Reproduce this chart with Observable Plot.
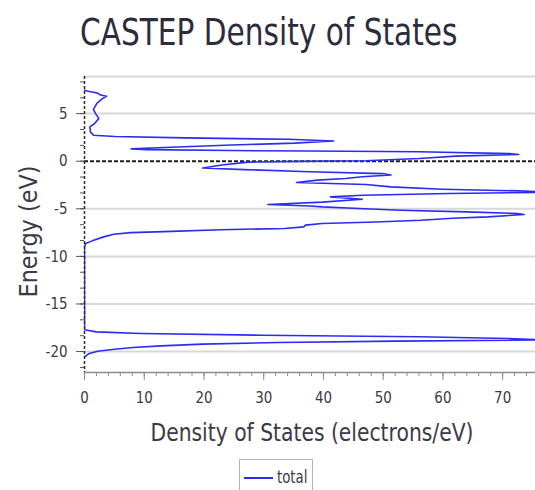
<!DOCTYPE html>
<html>
<head>
<meta charset="utf-8">
<script src="https://cdn.jsdelivr.net/npm/d3@7"></script>
<script src="https://cdn.jsdelivr.net/npm/@observablehq/plot@0.6"></script>
<style>
  html, body { margin: 0; padding: 0; background: #fff; }
  body { width: 535px; height: 490px; position: relative; overflow: hidden; font-family: "DejaVu Sans", sans-serif; }
  #title { position: absolute; left: 80px; top: 14px; font-size: 37px; line-height: 37px; color: #2c2c3c; transform: scaleX(0.80); transform-origin: 0 0; white-space: nowrap; }
  #chart { position: absolute; left: 0; top: 60px; }
  #legend { position: absolute; left: 239px; top: 459px; width: 74px; height: 40px; border: 1px solid #b4b4b4; box-sizing: border-box; background: #fff; }
  #legend .sw { position: absolute; left: 4px; top: 17px; width: 29px; border-top: 2px solid #2b2bf5; }
  #legend .lab { position: absolute; left: 37px; top: 7px; font-size: 18px; line-height: 20px; color: #3a3a48; transform: scaleX(0.74); transform-origin: 0 0; white-space: nowrap; }
</style>
</head>
<body>
<div id="title">CASTEP Density of States</div>
<div id="chart"></div>
<div id="legend"><span class="sw"></span><span class="lab" id="legendLabel"></span></div>
<script>
// ---- data ----
const seriesName = "total";
const xLabel = "Density of States (electrons/eV)";
const yLabel = "Energy (eV)";
const xTicks = [0, 10, 20, 30, 40, 50, 60, 70];
const yTicks = [5, 0, -5, -10, -15, -20];
const xDomain = [0, 75.5];
const yDomain = [-22.2, 8.9];

// energy (eV) and total DOS (electrons/eV), in drawing order
const energy = [
  7.45, 7.3, 7.18, 6.96, 6.83, 6.58, 6.1, 5.45, 5.0, 4.5, 3.96, 3.6, 3.08, 2.73,
  2.6, 2.45, 2.3, 2.12, 1.9, 1.7, 1.5, 1.3, 1.22, 1.12, 1.07, 1.0, 0.8, 0.7,
  0.53, 0.28, 0.05, -0.02, -0.1, -0.4, -0.72, -0.88, -1.1, -1.3, -1.45, -1.64,
  -1.82, -1.99, -2.24, -2.45, -2.7, -2.94, -3.12, -3.25, -3.4, -3.57, -3.75,
  -4.0, -4.3, -4.55, -4.7, -4.8, -4.97, -5.15, -5.32, -5.5, -5.6, -5.85, -6.0,
  -6.2, -6.38, -6.55, -6.72, -6.9, -7.07, -7.2, -7.4, -7.5, -7.67, -7.95,
  -8.37, -8.65, -9.0, -17.7, -17.93, -18.1, -18.28, -18.45, -18.63, -18.78,
  -18.9, -19.05, -19.22, -19.4, -19.57, -19.75, -19.96, -20.2, -20.55
];
const dos = [
  0, 1.0, 2.1, 2.7, 3.7, 3.0, 2.1, 1.5, 1.85, 2.4, 1.7, 0.9, 1.0, 1.5,
  5.1, 16.8, 34.1, 41.7, 35.2, 24.6, 15.6, 7.8, 10.5, 24.6, 37.7, 56, 71.1, 72.7,
  62.1, 56, 47.1, 35.8, 27.4, 23, 19.8, 26.8, 37.7, 49.9, 51.3, 46.5,
  43.7, 39, 35.5, 47.1, 51.3, 59.9, 72.7, 79, 61, 46.5, 41.2,
  46.5, 39.8, 30.7, 37.7, 39.8, 45.9, 52.9, 64, 72.5, 73.6, 67.5, 61.6,
  56.3, 48.7, 39.8, 37, 36.7, 33.5, 22.8, 13.3, 7.7, 4.9, 3.2,
  1.3, 0.2, 0, 0, 2.0, 9.5, 29.6, 55.9, 71, 77,
  52, 32.4, 19.8, 12.8, 8.1, 5, 2.2, 0.8, 0
];

const rows = energy.map((e, i) => ({energy: e, dos: dos[i]}));
const xMinor = d3.range(0, 76, 2);
const yMinor = d3.range(-13, 6).map(k => k * 5 / 3);

const blue = "#2b2bf5";
const axisGray = "#8c8c8c";

const chart = Plot.plot({
  width: 535,
  height: 395,
  marginTop: 16,
  marginBottom: 83,
  marginLeft: 84,
  marginRight: 0,
  x: {domain: xDomain},
  y: {domain: yDomain},
  style: {fontFamily: "DejaVu Sans, sans-serif", fontSize: "16px", color: "#3a3a48", background: "#fff", overflow: "visible"},
  marks: [
    Plot.gridY(yTicks.filter(d => d !== 0), {stroke: "#d8d8d8", strokeWidth: 2, strokeOpacity: 1}),
    Plot.ruleY([yDomain[1]], {stroke: "#d8d8d8", strokeWidth: 2}),
    Plot.ruleY([0], {stroke: "#1e1e1e", strokeWidth: 2, strokeDasharray: "4,2"}),
    Plot.line(rows, {x: "dos", y: "energy", stroke: blue, strokeWidth: 1.6, clip: true}),
    Plot.ruleX([0], {stroke: "#2a2a2a", strokeWidth: 1.5, strokeDasharray: "3,2"}),
    Plot.ruleY([yDomain[0]], {stroke: axisGray, strokeWidth: 1.5}),
    Plot.axisX(xTicks, {tickSize: 8, tickPadding: 11, stroke: axisGray, label: null, tickFormat: d => String(d)}),
    Plot.axisX(xMinor, {tickSize: 4, text: null, stroke: axisGray, label: null}),
    Plot.axisY(yTicks, {tickSize: 8, tickPadding: 9, stroke: "#555", label: null, tickFormat: d => String(d)}),
    Plot.axisY(yMinor, {tickSize: 4, text: null, stroke: "#555", label: null}),
    Plot.text([yLabel], {text: d => d, frameAnchor: "left", textAnchor: "middle", lineAnchor: "middle", dx: -56, dy: 7, rotate: -90, fontSize: 25, fill: "#3a3a48"}),
    Plot.text([xLabel], {text: d => d, frameAnchor: "bottom", textAnchor: "middle", lineAnchor: "middle", dx: 2, dy: 60, fontSize: 25, fill: "#3a3a48"})
  ]
});

document.getElementById("chart").appendChild(chart);
document.getElementById("legendLabel").textContent = seriesName;

// condense text horizontally (along its reading direction) to imitate the narrow original typeface
function squeeze(t, f) {
  const tr = t.getAttribute("transform") || "";
  t.setAttribute("transform", (tr + ` scale(${f.toFixed(3)},1)`).trim());
}
Array.from(chart.querySelectorAll("text")).forEach(t => {
  const s = t.textContent;
  const L = t.getComputedTextLength();
  if (s === yLabel) squeeze(t, 132 / L);
  else if (s === xLabel) squeeze(t, 323 / L);
  else squeeze(t, 0.84);
});
</script>
</body>
</html>
